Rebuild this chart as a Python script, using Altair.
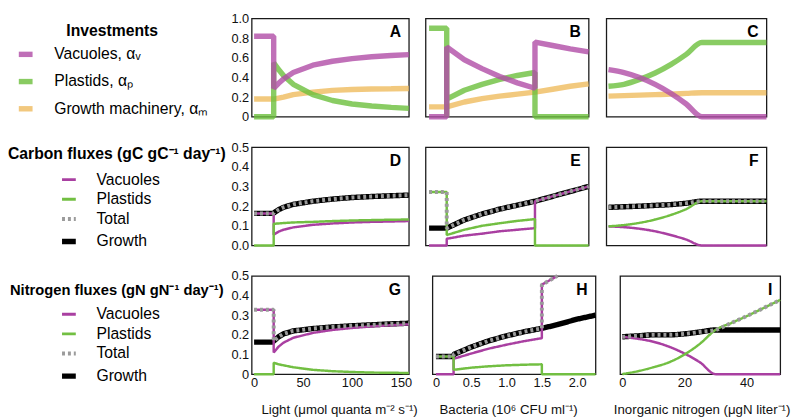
import altair as alt
import pandas as pd

FONT = "Liberation Sans"

# ---------------- x grids ----------------
LIGHT_X = [0, 20, 20, 25, 30, 40, 60, 80, 100, 120, 140, 158]
BACT_X = [0, 0.25, 0.25, 0.25, 0.5, 0.75, 1.0, 1.25, 1.5, 1.5, 1.5, 1.75, 2.0, 2.26]
BACT_X_H = [0, 0.25, 0.25, 0.25, 0.5, 0.75, 1.0, 1.25, 1.5, 1.5, 1.5, 1.72, 2.0, 2.26]
NITRO_X = [0, 5, 10, 15, 20, 25, 30, 35, 40, 45, 50.8]

# ---------------- row 1: investments ----------------
A_VAC = [0.82, 0.82, 0.29, 0.34, 0.385, 0.45, 0.525, 0.565, 0.592, 0.61, 0.623, 0.632]
A_PLA = [0, 0, 0.55, 0.48, 0.42, 0.33, 0.225, 0.165, 0.13, 0.11, 0.095, 0.085]
A_MAC = [0.18, 0.18, 0.18, 0.19, 0.20, 0.225, 0.25, 0.268, 0.277, 0.282, 0.285, 0.288]
B_VAC = [0, 0, 0, 0.71, 0.58, 0.49, 0.41, 0.345, 0.29, 0.29, 0.76, 0.725, 0.69, 0.66]
B_PLA = [0.9, 0.9, 0, 0.18, 0.27, 0.33, 0.38, 0.42, 0.45, 0, 0, 0, 0, 0]
B_MAC = [0.1, 0.1, 0.1, 0.1, 0.15, 0.185, 0.21, 0.23, 0.25, 0.25, 0.25, 0.28, 0.31, 0.335]
C_VAC = [0.48, 0.45, 0.40, 0.33, 0.24, 0.13, 0, 0, 0, 0, 0]
C_PLA = [0.31, 0.33, 0.38, 0.445, 0.53, 0.635, 0.755, 0.755, 0.755, 0.755, 0.755]
C_MAC = [0.21, 0.215, 0.22, 0.225, 0.23, 0.238, 0.245, 0.245, 0.245, 0.245, 0.245]

# ---------------- row 2: carbon fluxes ----------------
D_VAC = [0.163, 0.163, 0.055, 0.07, 0.08, 0.092, 0.105, 0.112, 0.117, 0.12, 0.122, 0.124]
D_PLA = [0, 0, 0.11, 0.112, 0.114, 0.117, 0.12, 0.124, 0.127, 0.129, 0.131, 0.132]
D_TOT = [0.163, 0.163, 0.165, 0.182, 0.194, 0.209, 0.225, 0.236, 0.244, 0.249, 0.253, 0.256]
D_GRO = [0.163, 0.163, 0.165, 0.182, 0.194, 0.209, 0.225, 0.236, 0.244, 0.249, 0.253, 0.256]
E_VAC = [0, 0, 0, 0.034, 0.05, 0.06, 0.072, 0.08, 0.088, 0.088, 0.225, 0.25, 0.275, 0.30]
E_PLA = [0.272, 0.272, 0.053, 0.053, 0.08, 0.10, 0.113, 0.125, 0.134, 0, 0, 0, 0, 0]
E_TOT = [0.272, 0.272, 0.088, 0.088, 0.13, 0.16, 0.185, 0.205, 0.225, 0.225, 0.225, 0.25, 0.275, 0.30]
E_GRO = [0.088, 0.088, 0.088, 0.088, 0.13, 0.16, 0.185, 0.205, 0.225, 0.225, 0.225, 0.25, 0.275, 0.30]
F_VAC = [0.097, 0.093, 0.085, 0.072, 0.053, 0.03, 0, 0, 0, 0, 0]
F_PLA = [0.097, 0.104, 0.115, 0.132, 0.155, 0.185, 0.225, 0.225, 0.225, 0.225, 0.225]
F_TOT = [0.194, 0.197, 0.2, 0.204, 0.208, 0.215, 0.225, 0.225, 0.225, 0.225, 0.225]
F_GRO = [0.194, 0.197, 0.2, 0.204, 0.208, 0.215, 0.225, 0.225, 0.225, 0.225, 0.225]

# ---------------- row 3: nitrogen fluxes ----------------
G_VAC = [0.328, 0.328, 0.11, 0.14, 0.16, 0.185, 0.21, 0.225, 0.235, 0.243, 0.249, 0.253]
G_PLA = [0, 0, 0.058, 0.05, 0.045, 0.035, 0.022, 0.015, 0.011, 0.008, 0.007, 0.006]
G_TOT = [0.328, 0.328, 0.168, 0.19, 0.205, 0.22, 0.232, 0.24, 0.246, 0.251, 0.256, 0.259]
G_GRO = [0.163, 0.163, 0.168, 0.19, 0.205, 0.22, 0.232, 0.24, 0.246, 0.251, 0.256, 0.259]
H_VAC = [0, 0, 0, 0.078, 0.105, 0.13, 0.15, 0.168, 0.183, 0.183, 0.455, 0.5, None, None]
H_PLA = [0.09, 0.09, 0.022, 0.022, 0.033, 0.04, 0.045, 0.048, 0.05, 0, 0, 0, 0, 0]
H_TOT = [0.09, 0.09, 0.1, 0.1, 0.138, 0.17, 0.195, 0.216, 0.233, 0.233, 0.455, 0.5, None, None]
H_GRO = [0.09, 0.09, 0.1, 0.1, 0.138, 0.17, 0.195, 0.216, 0.233, 0.233, 0.233, 0.252, 0.28, 0.30]
I_VAC = [0.19, 0.18, 0.165, 0.14, 0.105, 0.06, 0, 0, 0, 0, 0]
I_PLA = [0, 0.015, 0.035, 0.06, 0.10, 0.155, 0.225, 0.26, 0.295, 0.333, 0.378]
I_TOT = [0.19, 0.195, 0.2, 0.2, 0.205, 0.215, 0.225, 0.26, 0.295, 0.333, 0.378]
I_GRO = [0.19, 0.195, 0.2, 0.2, 0.205, 0.215, 0.225, 0.225, 0.225, 0.225, 0.225]

# ---------------- categories / styles ----------------
INV = ["Vacuoles, αᵥ", "Plastids, αₚ", "Growth machinery, αₘ"]
INV_COLORS = ["#B04CA6", "#6CBF3C", "#EFBB5E"]
INV_DRAW = [INV[2], INV[1], INV[0]]
FLUX = ["Vacuoles", "Plastids", "Total", "Growth"]
FLUX_COLORS = ["#A93FA1", "#72BF42", "#9B9B9B", "#000000"]
FLUX_DASH = [[1, 0], [1, 0], [3, 3], [1, 0]]
FLUX_WIDTH = {"Vacuoles": 2.5, "Plastids": 2.5, "Total": 4.0, "Growth": 5.5}
FLUX_DRAW = ["Growth", "Vacuoles", "Plastids", "Total"]
LETTERS = [["A", "B", "C"], ["D", "E", "F"], ["G", "H", "I"]]

X_DOMAINS = [[-2.5, 158], [-0.05, 2.26], [-0.7, 50.8]]
X_TITLES = ["Light (μmol quanta m⁻² s⁻¹)", "Bacteria (10⁶ CFU ml⁻¹)", "Inorganic nitrogen (μgN liter⁻¹)"]
X_TICKS = [[0, 50, 100, 150], [0, 0.5, 1.0, 1.5, 2.0], [0, 20, 40]]
X_TITLE_X = [89, 77, 83]
WIDTHS = [160, 166, 163]
H = 100


def make_df(x, series, field):
    recs = []
    for name, ys in series:
        for i, (xv, yv) in enumerate(zip(x, ys)):
            if yv is None:
                continue
            recs.append({"x": xv, "y": yv, field: name, "i": i})
    return pd.DataFrame(recs)


ZERO_EXPR = "datum.value == 0 ? '0' : format(datum.value, '.1f')"


def panel(df, field, draw, widths, color_scale, dash_scale, legend, col, yvals, ylabel_expr,
          letter, show_x, opacity=1.0):
    xaxis = None
    if show_x:
        lab = "format(datum.value, 'd')" if col != 1 else ZERO_EXPR
        xaxis = alt.Axis(values=X_TICKS[col], labelExpr=lab, title=X_TITLES[col],
                         titleX=X_TITLE_X[col], titlePadding=13)
    yaxis = None
    if col == 0:
        yaxis = alt.Axis(values=yvals, labelExpr=ylabel_expr, title=None)
    xenc = alt.X("x:Q", scale=alt.Scale(domain=X_DOMAINS[col], nice=False, zero=False), axis=xaxis)
    yenc = alt.Y("y:Q", scale=alt.Scale(domain=[0, yvals[-1]], nice=False, zero=False), axis=yaxis)
    interp = "monotone" if col == 2 else "linear"
    layers = []
    for s in draw:
        enc = dict(
            x=xenc, y=yenc,
            order=alt.Order("i:Q"),
            color=alt.Color(f"{field}:N", scale=color_scale, legend=legend),
            strokeWidth=alt.value(widths[s]),
        )
        if dash_scale is not None:
            enc["strokeDash"] = alt.StrokeDash(f"{field}:N", scale=dash_scale, legend=legend)
        layers.append(
            alt.Chart(df)
            .transform_filter(alt.datum[field] == s)
            .mark_line(opacity=opacity, interpolate=interp, strokeJoin="bevel")
            .encode(**enc)
        )
    # panel letter anchored at the top-right corner of the data domain
    lab_df = pd.DataFrame({"x": [X_DOMAINS[col][1]], "y": [yvals[-1]], "t": [letter]})
    layers.append(
        alt.Chart(lab_df)
        .mark_text(align="right", baseline="top", dx=-8, dy=6, fontSize=16, fontWeight="bold",
                   color="black", font=FONT)
        .encode(x=xenc, y=yenc, text="t:N")
    )
    return alt.layer(*layers).properties(width=WIDTHS[col], height=H)


# ---------- legends ----------
leg_common = dict(orient="none", titleFontWeight="bold", titleColor="black",
                  titleFont=FONT, labelFont=FONT, labelFontSize=16, labelColor="black",
                  symbolType="stroke", symbolSize=196, labelLimit=400, titleLimit=400)
leg1 = alt.Legend(title="Investments", legendX=-240, legendY=4.5, titleAnchor="middle",
                  titleFontSize=16, titlePadding=6, symbolStrokeWidth=5.5, labelOffset=19,
                  rowPadding=5.7, **leg_common)
width_expr = {"expr": "datum.value == 'Growth' ? 5.5 : datum.value == 'Total' ? 4 : 3"}
leg2 = alt.Legend(title="Carbon fluxes (gC gC⁻¹ day⁻¹)", legendX=-248, legendY=-1.5,
                  titleAnchor="start", titleFontSize=16, titlePadding=10.5,
                  symbolStrokeWidth=width_expr, symbolOffset=54, labelOffset=20, rowPadding=4,
                  **leg_common)
leg3 = alt.Legend(title="Nitrogen fluxes (gN gN⁻¹ day⁻¹)", legendX=-246, legendY=7,
                  titleAnchor="start", titleFontSize=15, titlePadding=9,
                  symbolStrokeWidth=width_expr, symbolOffset=52, labelOffset=20, rowPadding=4,
                  **leg_common)

inv_color = alt.Scale(domain=INV, range=INV_COLORS)
flux_color = alt.Scale(domain=FLUX, range=FLUX_COLORS)
flux_dash = alt.Scale(domain=FLUX, range=FLUX_DASH)
inv_w = {s: 5.5 for s in INV}

ROW1_Y = [0, 0.2, 0.4, 0.6, 0.8, 1.0]
ROW23_Y = [0, 0.1, 0.2, 0.3, 0.4, 0.5]

dfA = make_df(LIGHT_X, [(INV[0], A_VAC), (INV[1], A_PLA), (INV[2], A_MAC)], "inv")
dfB = make_df(BACT_X, [(INV[0], B_VAC), (INV[1], B_PLA), (INV[2], B_MAC)], "inv")
dfC = make_df(NITRO_X, [(INV[0], C_VAC), (INV[1], C_PLA), (INV[2], C_MAC)], "inv")
dfD = make_df(LIGHT_X, [("Vacuoles", D_VAC), ("Plastids", D_PLA), ("Total", D_TOT), ("Growth", D_GRO)], "cflux")
dfE = make_df(BACT_X, [("Vacuoles", E_VAC), ("Plastids", E_PLA), ("Total", E_TOT), ("Growth", E_GRO)], "cflux")
dfF = make_df(NITRO_X, [("Vacuoles", F_VAC), ("Plastids", F_PLA), ("Total", F_TOT), ("Growth", F_GRO)], "cflux")
dfG = make_df(LIGHT_X, [("Vacuoles", G_VAC), ("Plastids", G_PLA), ("Total", G_TOT), ("Growth", G_GRO)], "nflux")
dfH = make_df(BACT_X_H, [("Vacuoles", H_VAC), ("Plastids", H_PLA), ("Total", H_TOT), ("Growth", H_GRO)], "nflux")
dfI = make_df(NITRO_X, [("Vacuoles", I_VAC), ("Plastids", I_PLA), ("Total", I_TOT), ("Growth", I_GRO)], "nflux")

SP = 12
row1 = alt.hconcat(*[
    panel(df, "inv", INV_DRAW, inv_w, inv_color, None, leg1, c, ROW1_Y, ZERO_EXPR,
          LETTERS[0][c], False, opacity=0.8)
    for c, df in enumerate([dfA, dfB, dfC])
], spacing=SP)
row2 = alt.hconcat(*[
    panel(df, "cflux", FLUX_DRAW, FLUX_WIDTH, flux_color, flux_dash, leg2, c, ROW23_Y,
          "format(datum.value, '.1f')", LETTERS[1][c], False)
    for c, df in enumerate([dfD, dfE, dfF])
], spacing=SP)
row3 = alt.hconcat(*[
    panel(df, "nflux", FLUX_DRAW, FLUX_WIDTH, flux_color, flux_dash, leg3, c, ROW23_Y,
          ZERO_EXPR, LETTERS[2][c], True)
    for c, df in enumerate([dfG, dfH, dfI])
], spacing=SP)

chart = (
    alt.vconcat(row1, row2, row3, spacing=16)
    .resolve_scale(color="independent", strokeDash="independent")
    .resolve_legend(color="independent", strokeDash="independent")
    .properties(padding={"left": 0, "top": 0, "right": 0, "bottom": 0})
    .configure(font=FONT)
    .configure_view(stroke="#1a1a1a", strokeWidth=1.3)
    .configure_axis(labelFont=FONT, labelFontSize=13, labelColor="#111111", titleFont=FONT,
                    titleFontSize=13.5, titleFontWeight="normal", titleColor="#111111",
                    ticks=False, domain=False, grid=False, labelPadding=3, titleLimit=400)
)

chart.save("out.html", embed_options={"renderer": "svg", "actions": False})
